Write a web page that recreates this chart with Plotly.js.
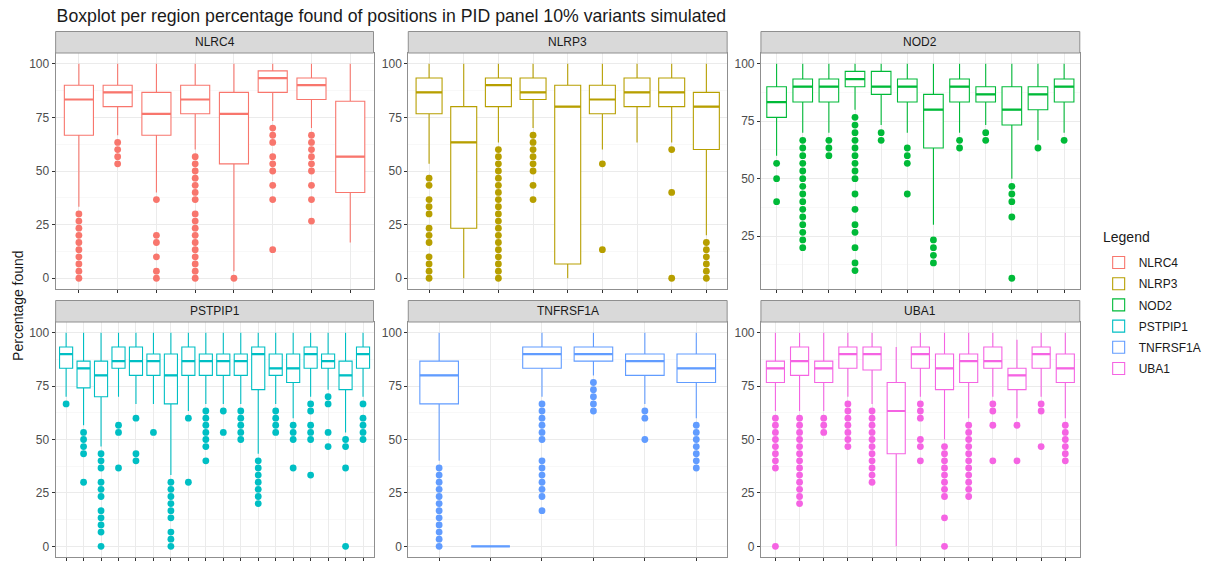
<!DOCTYPE html>
<html>
<head>
<meta charset="utf-8">
<script src="https://cdn.plot.ly/plotly-3.0.1.min.js"></script>
<style>html,body{margin:0;padding:0;background:#fff;}#chart{width:1207px;height:561px;}</style>
</head>
<body>
<div id="chart"></div>
<script>
// ---------- data ----------
const genes = ['NLRC4', 'NLRP3', 'NOD2', 'PSTPIP1', 'TNFRSF1A', 'UBA1'];

const NLRC4_q1  = [66.67, 80, 66.67, 76.67, 53.33, 86.67, 83.33, 40];
const NLRC4_med = [83.33, 86.67, 76.67, 83.33, 76.67, 93.33, 90, 56.67];
const NLRC4_q3  = [90, 90, 86.67, 90, 86.67, 96.67, 93.33, 82.5];
const NLRC4_lo  = [33.33, 66.67, 40, 60, 3.33, 73.33, 70, 16.67];
const NLRC4_hi  = [100, 100, 100, 100, 100, 100, 100, 100];
const NLRC4_out = [
  [0, 3.33, 6.67, 10, 13.33, 16.67, 20, 23.33, 26.67, 30],
  [53.33, 56.67, 60, 63.33],
  [0, 3.33, 10, 16.67, 20, 36.67],
  [0, 3.33, 6.67, 10, 13.33, 16.67, 20, 23.33, 26.67, 30, 36.67, 40, 43.33, 46.67, 50, 53.33, 56.67],
  [0],
  [13.33, 36.67, 43.33, 50, 53.33, 56.67, 63.33, 66.67, 70],
  [26.67, 36.67, 43.33, 50, 53.33, 56.67, 60, 63.33, 66.67],
  []
];

const NLRP3_q1  = [76.67, 23.33, 80, 83.33, 6.67, 76.67, 80, 80, 60];
const NLRP3_med = [86.67, 63.33, 90, 86.67, 80, 83.33, 86.67, 86.67, 80];
const NLRP3_q3  = [93.33, 80, 93.33, 93.33, 90, 90, 93.33, 93.33, 86.67];
const NLRP3_lo  = [53.33, 0, 63.33, 70, 0, 60, 63.33, 63.33, 20];
const NLRP3_hi  = [100, 100, 100, 100, 100, 100, 100, 100, 100];
const NLRP3_out = [
  [0, 3.33, 6.67, 10, 16.67, 20, 23.33, 30, 33.33, 36.67, 43.33, 46.67],
  [],
  [0, 3.33, 6.67, 10, 13.33, 16.67, 20, 23.33, 26.67, 30, 33.33, 36.67, 40, 43.33, 46.67, 50, 53.33, 56.67, 60],
  [36.67, 43.33, 50, 53.33, 56.67, 60, 63.33, 66.67],
  [],
  [13.33, 53.33],
  [],
  [0, 40, 60],
  [0, 3.33, 6.67, 10, 13.33, 16.67]
];

const NOD2_q1  = [76.67, 83.33, 83.33, 90, 86.67, 83.33, 63.33, 83.33, 83.33, 73.33, 80, 83.33];
const NOD2_med = [83.33, 90, 90, 93.33, 90, 90, 80, 90, 86.67, 80, 86.67, 90];
const NOD2_q3  = [90, 93.33, 93.33, 96.67, 96.67, 93.33, 86.67, 93.33, 90, 90, 90, 93.33];
const NOD2_lo  = [60, 70, 70, 80, 73.33, 70, 30, 70, 73.33, 50, 66.67, 70];
const NOD2_hi  = [100, 100, 100, 100, 100, 100, 100, 100, 100, 100, 100, 100];
const NOD2_out = [
  [40, 50, 56.67],
  [20, 23.33, 26.67, 30, 33.33, 36.67, 40, 43.33, 46.67, 50, 53.33, 56.67, 60, 63.33, 66.67],
  [60, 63.33, 66.67],
  [10, 13.33, 20, 26.67, 30, 36.67, 43.33, 50, 53.33, 56.67, 60, 63.33, 66.67, 70, 73.33, 76.67],
  [66.67, 70],
  [43.33, 56.67, 60, 63.33],
  [13.33, 16.67, 20, 23.33],
  [63.33, 66.67],
  [66.67, 70],
  [6.67, 33.33, 40, 43.33, 46.67],
  [63.33],
  [66.67]
];

const PSTPIP1_q1  = [83.33, 74.17, 70, 83.33, 80, 80, 66.67, 80, 80, 80, 80, 73.33, 80, 76.67, 83.33, 83.33, 73.33, 83.33];
const PSTPIP1_med = [90, 83.33, 80, 86.67, 86.67, 86.67, 80, 86.67, 86.67, 86.67, 86.67, 90, 83.33, 83.33, 90, 86.67, 80, 90];
const PSTPIP1_q3  = [93.33, 86.67, 86.67, 93.33, 93.33, 90, 90, 93.33, 90, 90, 90, 93.33, 90, 90, 93.33, 90, 86.67, 93.33];
const PSTPIP1_lo  = [70, 56.67, 46.67, 70, 66.67, 66.67, 33.33, 63.33, 66.67, 66.67, 66.67, 43.33, 66.67, 60, 70, 73.33, 53.33, 70];
const PSTPIP1_hi  = [100, 100, 100, 100, 100, 100, 100, 100, 100, 100, 100, 100, 100, 100, 100, 100, 100, 100];
const PSTPIP1_out = [
  [66.67],
  [30, 43.33, 46.67, 50, 53.33],
  [0, 6.67, 10, 13.33, 16.67, 23.33, 26.67, 30, 36.67, 40, 43.33],
  [36.67, 53.33, 56.67],
  [40, 43.33, 60],
  [53.33],
  [0, 3.33, 6.67, 13.33, 16.67, 20, 23.33, 26.67, 30],
  [30, 60],
  [40, 46.67, 50, 53.33, 56.67, 60, 63.33],
  [53.33, 63.33],
  [50, 53.33, 56.67, 60, 63.33],
  [20, 23.33, 26.67, 30, 33.33, 36.67, 40],
  [53.33, 56.67, 60, 63.33],
  [36.67, 50, 53.33, 56.67],
  [33.33, 50, 53.33, 56.67, 63.33, 66.67],
  [46.67, 53.33, 66.67, 70],
  [0, 36.67, 46.67, 50],
  [50, 53.33, 56.67, 60, 66.67]
];

const TNFRSF1A_q1  = [66.67, 0, 83.33, 86.67, 80, 76.67];
const TNFRSF1A_med = [80, 0, 90, 90, 86.67, 83.33];
const TNFRSF1A_q3  = [86.67, 0, 93.33, 93.33, 90, 90];
const TNFRSF1A_lo  = [40, 0, 70, 80, 66.67, 60];
const TNFRSF1A_hi  = [100, 0, 100, 100, 100, 100];
const TNFRSF1A_out = [
  [0, 3.33, 6.67, 10, 13.33, 16.67, 20, 23.33, 26.67, 30, 33.33, 36.67],
  [],
  [16.67, 23.33, 26.67, 30, 33.33, 36.67, 40, 50, 53.33, 56.67, 60, 63.33, 66.67],
  [63.33, 66.67, 70, 73.33, 76.67],
  [50, 60, 63.33],
  [36.67, 40, 43.33, 46.67, 50, 53.33, 56.67]
];

const UBA1_q1  = [76.67, 80, 76.67, 83.33, 82.5, 43.33, 83.33, 73.33, 76.67, 83.33, 73.33, 83.33, 76.67];
const UBA1_med = [83.33, 86.67, 83.33, 90, 90, 63.33, 90, 83.33, 86.67, 86.67, 80, 90, 83.33];
const UBA1_q3  = [86.67, 93.33, 86.67, 93.33, 93.33, 76.67, 93.33, 90, 90, 93.33, 83.33, 93.33, 90];
const UBA1_lo  = [63.33, 63.33, 63.33, 70, 66.67, 0, 70, 50, 60, 70, 60, 70, 60];
const UBA1_hi  = [100, 100, 100, 100, 100, 93.33, 100, 100, 100, 100, 96.67, 100, 100];
const UBA1_out = [
  [0, 36.67, 40, 43.33, 46.67, 50, 53.33, 56.67, 60],
  [20, 23.33, 26.67, 30, 33.33, 36.67, 40, 43.33, 46.67, 50, 53.33, 56.67, 60],
  [53.33, 56.67, 60],
  [46.67, 50, 53.33, 56.67, 60, 63.33, 66.67],
  [30, 33.33, 36.67, 40, 43.33, 46.67, 50, 53.33, 56.67, 60, 63.33],
  [],
  [40, 46.67, 50, 60, 63.33, 66.67],
  [0, 13.33, 23.33, 26.67, 30, 33.33, 36.67, 40, 43.33, 46.67],
  [23.33, 26.67, 30, 33.33, 36.67, 40, 43.33, 46.67, 50, 53.33, 56.67],
  [40, 56.67, 63.33, 66.67],
  [40, 56.67],
  [46.67, 63.33, 66.67],
  [40, 43.33, 46.67, 50, 53.33, 56.67]
];

const stats = {
  NLRC4:    {q1: NLRC4_q1, med: NLRC4_med, q3: NLRC4_q3, lo: NLRC4_lo, hi: NLRC4_hi, out: NLRC4_out},
  NLRP3:    {q1: NLRP3_q1, med: NLRP3_med, q3: NLRP3_q3, lo: NLRP3_lo, hi: NLRP3_hi, out: NLRP3_out},
  NOD2:     {q1: NOD2_q1, med: NOD2_med, q3: NOD2_q3, lo: NOD2_lo, hi: NOD2_hi, out: NOD2_out},
  PSTPIP1:  {q1: PSTPIP1_q1, med: PSTPIP1_med, q3: PSTPIP1_q3, lo: PSTPIP1_lo, hi: PSTPIP1_hi, out: PSTPIP1_out},
  TNFRSF1A: {q1: TNFRSF1A_q1, med: TNFRSF1A_med, q3: TNFRSF1A_q3, lo: TNFRSF1A_lo, hi: TNFRSF1A_hi, out: TNFRSF1A_out},
  UBA1:     {q1: UBA1_q1, med: UBA1_med, q3: UBA1_q3, lo: UBA1_lo, hi: UBA1_hi, out: UBA1_out}
};

// ---------- styling / layout ----------
const colors = ['#F8766D', '#B79F00', '#00BA38', '#00BFC4', '#619CFF', '#F564E3'];
const W = 1207, H = 561;
const colPx = [[56, 376], [411, 732], [766, 1087]];
const rowPx = [[53, 289], [322, 557]];
const stripH = 21.5;
const BOXW = 0.75;
const FONT = 'Liberation Sans, Arial, Helvetica, sans-serif';
const BORDER = '#8f8f8f';

const traces = [];
const layout = {
  width: W, height: H,
  margin: {l: 0, r: 0, t: 0, b: 0},
  paper_bgcolor: '#ffffff', plot_bgcolor: '#ffffff',
  font: {family: FONT, color: '#1a1a1a'},
  showlegend: true,
  boxmode: 'overlay',
  title: {text: 'Boxplot per region percentage found of positions in PID panel 10% variants simulated',
          x: 57 / W, xanchor: 'left', xref: 'paper', y: 1 - 16 / H, yanchor: 'middle', yref: 'container',
          font: {family: FONT, size: 17.7, color: '#1a1a1a'}},
  legend: {x: 1106 / W, xanchor: 'left', y: 1 - 248 / H, yanchor: 'top',
           font: {family: FONT, size: 12, color: '#1a1a1a'},
           tracegroupgap: 2.2, bgcolor: 'rgba(0,0,0,0)', itemwidth: 30},
  shapes: [], annotations: []
};

genes.forEach((g, k) => {
  const s = stats[g];
  const n = s.med.length;
  const row = k < 3 ? 0 : 1, col = k % 3;
  const ax = k === 0 ? '' : String(k + 1);
  const xs = s.med.map((_, i) => i + 1);
  const color = colors[k];

  traces.push({
    type: 'box', name: g, legendgroup: g, showlegend: true,
    xaxis: 'x' + ax, yaxis: 'y' + ax,
    x: xs, q1: s.q1, median: s.med, q3: s.q3, lowerfence: s.lo, upperfence: s.hi,
    boxpoints: false, width: BOXW, whiskerwidth: 0,
    line: {color: color, width: 1.1}, fillcolor: '#ffffff', hoverinfo: 'skip'
  });
  // thicker median lines (ggplot style)
  const mx = [], my = [];
  s.med.forEach((m, i) => { mx.push(i + 1 - BOXW / 2, i + 1 + BOXW / 2, null); my.push(m, m, null); });
  traces.push({
    type: 'scatter', mode: 'lines', x: mx, y: my, xaxis: 'x' + ax, yaxis: 'y' + ax,
    line: {color: color, width: 2.2}, showlegend: false, legendgroup: g, hoverinfo: 'skip'
  });
  // outliers
  const ox = [], oy = [];
  s.out.forEach((arr, i) => arr.forEach(v => { ox.push(i + 1); oy.push(v); }));
  traces.push({
    type: 'scatter', mode: 'markers', x: ox, y: oy, xaxis: 'x' + ax, yaxis: 'y' + ax,
    marker: {color: color, size: 6.8}, showlegend: false, legendgroup: g, hoverinfo: 'skip'
  });

  // y range: data range expanded by 5% (ggplot default)
  const all = [].concat(s.lo, s.hi, ...s.out);
  const mn = Math.min(...all), mxv = Math.max(...all), span = mxv - mn;
  const xdom = [colPx[col][0] / W, colPx[col][1] / W];
  const ydom = [1 - rowPx[row][1] / H, 1 - rowPx[row][0] / H];

  layout['xaxis' + ax] = {
    domain: xdom, anchor: 'y' + ax, range: [0.4, n + 0.6],
    tickmode: 'array', tickvals: xs, showticklabels: false,
    ticks: 'outside', ticklen: 3, tickcolor: '#333333', tickwidth: 1,
    showgrid: true, gridcolor: '#ebebeb', gridwidth: 1, zeroline: false,
    showline: true, mirror: true, linecolor: BORDER, linewidth: 1, fixedrange: true
  };
  layout['yaxis' + ax] = {
    domain: ydom, anchor: 'x' + ax, range: [mn - 0.05 * span, mxv + 0.05 * span],
    tick0: 0, dtick: 25, ticks: 'outside', ticklen: 3, tickcolor: '#333333', tickwidth: 1,
    tickfont: {family: FONT, size: 12, color: '#4d4d4d'},
    showgrid: true, gridcolor: '#ebebeb', gridwidth: 1, zeroline: false,
    minor: {showgrid: true, gridcolor: '#f4f4f4', gridwidth: 0.6, tick0: 0, dtick: 12.5},
    showline: true, mirror: true, linecolor: BORDER, linewidth: 1, fixedrange: true
  };

  // facet strip
  const sy0 = 1 - rowPx[row][0] / H, sy1 = 1 - (rowPx[row][0] - stripH) / H;
  layout.shapes.push({type: 'rect', xref: 'paper', yref: 'paper', x0: xdom[0], x1: xdom[1], y0: sy0, y1: sy1,
    fillcolor: '#d9d9d9', line: {color: BORDER, width: 1}, layer: 'above'});
  layout.annotations.push({xref: 'paper', yref: 'paper', x: (xdom[0] + xdom[1]) / 2, y: (sy0 + sy1) / 2,
    xanchor: 'center', yanchor: 'middle', showarrow: false, text: g,
    font: {family: FONT, size: 12, color: '#1a1a1a'}});
});

layout.annotations.push({xref: 'paper', yref: 'paper', x: 18 / W, y: 1 - 305 / H, xanchor: 'center', yanchor: 'middle',
  showarrow: false, text: 'Percentage found', textangle: -90, font: {family: FONT, size: 14, color: '#1a1a1a'}});
layout.annotations.push({xref: 'paper', yref: 'paper', x: 1108 / W, y: 1 - 237 / H, xanchor: 'left', yanchor: 'middle',
  showarrow: false, text: 'Legend', font: {family: FONT, size: 14, color: '#1a1a1a'}});

Plotly.newPlot('chart', traces, layout, {staticPlot: true, displayModeBar: false});
</script>
</body>
</html>
